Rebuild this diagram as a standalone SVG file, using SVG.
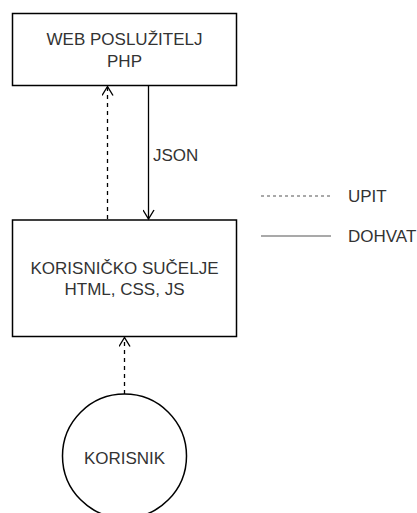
<svg xmlns="http://www.w3.org/2000/svg" width="417" height="513" viewBox="0 0 417 513">
<style>
.box{fill:#fff;stroke:#000;stroke-width:1.5}
.t{font-family:"Liberation Sans",Arial,sans-serif;font-size:17px;fill:#333}
.c{text-anchor:middle}
.ln{fill:none;stroke:#000;stroke-width:1.3}
.dash{stroke-dasharray:4 4}
.lg{fill:none;stroke:#555;stroke-width:1.2}
</style>
<defs>
<marker id="open" viewBox="0 0 12 12" refX="10" refY="6" markerWidth="12" markerHeight="12" markerUnits="userSpaceOnUse" orient="auto">
<path d="M1,0.5 L10,6 L1,11.5" fill="none" stroke="#000" stroke-width="1.4"/>
</marker>
</defs>
<rect width="417" height="513" fill="#fff"/>
<g id="web-server">
<rect class="box" x="12.5" y="13.5" width="224" height="72"/>
<text class="t c" x="124.5" y="45">WEB POSLUŽITELJ</text>
<text class="t c" x="124.5" y="67">PHP</text>
</g>
<g id="ui">
<rect class="box" x="12.5" y="220" width="224" height="116.5"/>
<text class="t c" x="124.5" y="274">KORISNIČKO SUČELJE</text>
<text class="t c" x="124.5" y="295">HTML, CSS, JS</text>
</g>
<g id="user">
<circle class="box" cx="124.5" cy="456" r="62" stroke-width="1.2"/>
<text class="t c" x="124.5" y="464">KORISNIK</text>
</g>
<g id="connectors">
<line class="ln dash" x1="107.5" y1="219" x2="107.5" y2="86.5" marker-end="url(#open)"/>
<line class="ln" x1="148.5" y1="86" x2="148.5" y2="219" marker-end="url(#open)"/>
<text class="t" x="153" y="161">JSON</text>
<line class="ln dash" x1="124.5" y1="394" x2="124.5" y2="337.5" marker-end="url(#open)"/>
</g>
<g id="legend">
<line class="lg" x1="261" y1="196" x2="331" y2="196" stroke-dasharray="3 3"/>
<text class="t" x="348" y="202">UPIT</text>
<line class="lg" x1="261" y1="236" x2="331" y2="236"/>
<text class="t" x="348" y="242">DOHVAT</text>
</g>
</svg>
